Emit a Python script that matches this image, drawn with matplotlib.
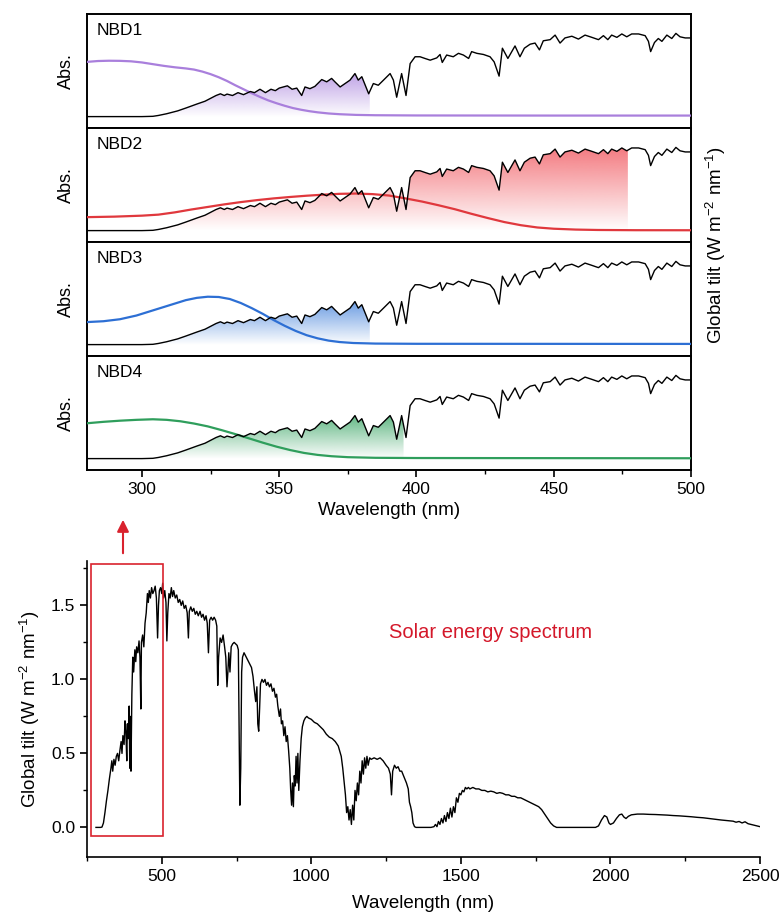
import numpy as np
import matplotlib
matplotlib.use('Agg')
from matplotlib import pyplot as plt
from matplotlib.patches import Rectangle
from matplotlib.ticker import MultipleLocator, FormatStrFormatter
from matplotlib.colors import to_rgb

plt.rcParams['font.family'] = ['Liberation Sans', 'DejaVu Sans']
plt.rcParams['mathtext.fontset'] = 'custom'
plt.rcParams['mathtext.rm'] = 'Liberation Sans'

# --- DATA ------------------------------------------------------------+

# smoothed AM1.5G spectrum used in the zoomed panels (nm, W m-2 nm-1)
detail_nm = [280, 290, 300, 304, 306, 309, 313, 316, 320, 323, 325, 327, 328.6, 330, 331, 333, 335,
             337, 339.5, 341, 343, 345, 347, 348.6, 350, 353, 354.7, 356.4, 358.2, 359.4, 361.2, 363,
             365.5, 367.3, 369.1, 370.3, 372.2, 374, 375.8, 377.6, 378.8, 380.1, 381.6, 382.6, 384.3,
             386.1, 388, 390.4, 391.6, 392.8, 394.6, 396.2, 397.7, 399.5, 401.3, 403.1, 405, 407.4,
             408.6, 409.4, 411, 413.4, 415.3, 417.1, 419, 420.1, 422, 424.4, 426.8, 428.3, 430.1,
             431.3, 433.3, 435.9, 437.7, 439.3, 441.4, 443.2, 444.8, 446.2, 448.7, 450.5, 452.3, 454.1,
             456.6, 459, 461.4, 463.9, 466.3, 468.1, 469.7, 471.1, 473, 474.8, 476.6, 478.4, 480.9,
             483.3, 484.5, 485.3, 486.7, 488.1, 489.4, 491.2, 493, 494.5, 496, 497.9, 500]
detail_val = [0, 0, 0, 0.005, 0.02, 0.05, 0.10, 0.15, 0.22, 0.27, 0.32, 0.37, 0.40, 0.37, 0.395, 0.37, 0.42,
              0.385, 0.44, 0.42, 0.48, 0.42, 0.48, 0.455, 0.50, 0.54, 0.48, 0.50, 0.37, 0.52, 0.49, 0.53,
              0.65, 0.61, 0.67, 0.61, 0.52, 0.58, 0.64, 0.755, 0.64, 0.70, 0.52, 0.40, 0.58,
              0.55, 0.64, 0.755, 0.64, 0.34, 0.755, 0.37, 0.93, 1.05, 1.05, 1.02, 0.99, 1.03,
              1.09, 0.95, 1.08, 1.05, 1.11, 1.08, 1.02, 1.14, 1.11, 1.09, 1.05, 0.96, 0.71,
              1.20, 1.02, 1.24, 1.05, 1.20, 1.27, 1.29, 1.17, 1.33, 1.35, 1.43, 1.29, 1.38,
              1.41, 1.36, 1.43, 1.39, 1.35, 1.42, 1.35, 1.43, 1.39, 1.45, 1.40, 1.45, 1.45,
              1.42, 1.32, 1.14, 1.30, 1.37, 1.32, 1.43, 1.37, 1.46, 1.40, 1.38, 1.38]

# full AM1.5G global tilt spectrum (bottom panel)
solar_nm = [280, 295, 300, 305, 310, 315, 320, 325, 330, 333, 336, 340, 344, 348, 352, 356, 360, 364, 367,
            370, 374, 377, 380, 383, 385, 388, 391, 393, 395, 397, 400, 403, 406, 410, 413, 416, 420, 424,
            427, 430, 432, 436, 440, 444, 448, 452, 455, 458, 462, 466, 470, 474, 478, 482, 486, 489, 492,
            496, 500, 503, 506, 510, 514, 517, 520, 524, 528, 532, 536, 540, 545, 550, 555, 560, 565, 570,
            575, 580, 585, 589, 592, 597, 602, 607, 612, 617, 622, 628, 633, 638, 643, 648, 652, 656, 660,
            665, 670, 675, 680, 684, 687, 690, 695, 700, 705, 710, 714, 718, 721, 724, 728, 732, 737, 742,
            747, 752, 756, 759, 761, 764, 767, 770, 775, 780, 785, 790, 795, 800, 805, 810, 814, 818, 821,
            824, 827, 830, 835, 840, 845, 850, 855, 860, 865, 870, 875, 880, 884, 888, 893, 897, 900, 904,
            908, 912, 916, 920, 924, 928, 931, 934, 937, 940, 943, 946, 949, 952, 955, 958, 962, 966, 970,
            975, 980, 985, 990, 1000, 1010, 1020, 1030, 1040, 1050, 1060, 1070, 1080, 1090, 1100, 1105,
            1110, 1114, 1118, 1122, 1126, 1130, 1134, 1138, 1142, 1146, 1150, 1154, 1158, 1162, 1166, 1170,
            1174, 1178, 1182, 1186, 1190, 1195, 1200, 1210, 1220, 1230, 1240, 1250, 1258, 1264, 1268, 1272,
            1278, 1284, 1290, 1296, 1302, 1310, 1318, 1324, 1328, 1332, 1336, 1340, 1345, 1350, 1400, 1410,
            1415, 1420, 1425, 1430, 1435, 1440, 1445, 1450, 1455, 1460, 1465, 1470, 1475, 1480, 1485, 1490,
            1495, 1500, 1505, 1510, 1515, 1520, 1525, 1530, 1540, 1550, 1560, 1570, 1580, 1590, 1600, 1610,
            1620, 1630, 1640, 1650, 1660, 1670, 1680, 1690, 1700, 1710, 1720, 1730, 1740, 1750, 1760, 1770,
            1780, 1790, 1800, 1810, 1820, 1950, 1960, 1970, 1980, 1988, 1995, 2000, 2010, 2020, 2030, 2038,
            2045, 2052, 2060, 2070, 2090, 2110, 2130, 2150, 2170, 2190, 2210, 2230, 2250, 2270, 2290, 2310,
            2330, 2350, 2370, 2390, 2410, 2420, 2430, 2440, 2450, 2460, 2470, 2480, 2490, 2500]
solar_val = [0, 0, 0.002, 0.03, 0.10, 0.18, 0.25, 0.33, 0.40, 0.45, 0.38, 0.46, 0.42, 0.48, 0.50, 0.45, 0.52,
             0.58, 0.50, 0.62, 0.56, 0.72, 0.65, 0.45, 0.70, 0.60, 0.82, 0.40, 0.75, 0.38, 0.90, 1.15, 1.05,
             1.20, 1.12, 1.22, 1.18, 1.26, 1.15, 0.80, 1.25, 1.30, 1.22, 1.38, 1.45, 1.58, 1.52, 1.60, 1.55,
             1.62, 1.58, 1.60, 1.63, 1.55, 1.28, 1.50, 1.60, 1.62, 1.58, 1.65, 1.55, 1.60, 1.52, 1.26, 1.45,
             1.58, 1.55, 1.62, 1.56, 1.60, 1.55, 1.57, 1.52, 1.54, 1.50, 1.53, 1.48, 1.50, 1.45, 1.28, 1.46,
             1.49, 1.46, 1.48, 1.44, 1.46, 1.43, 1.46, 1.42, 1.44, 1.40, 1.43, 1.38, 1.18, 1.40, 1.42, 1.40,
             1.42, 1.40, 1.36, 0.96, 1.15, 1.28, 1.25, 1.30, 1.22, 1.15, 0.95, 1.05, 1.18, 1.05, 1.22, 1.24,
             1.25, 1.24, 1.23, 1.20, 0.60, 0.15, 0.40, 1.05, 1.15, 1.18, 1.16, 1.14, 1.12, 1.10, 1.08, 1.02,
             0.92, 0.85, 0.95, 0.70, 0.65, 0.80, 0.97, 1.00, 0.98, 1.00, 0.96, 0.98, 0.95, 0.97, 0.92, 0.94,
             0.88, 0.90, 0.82, 0.75, 0.80, 0.70, 0.72, 0.62, 0.68, 0.58, 0.62, 0.52, 0.40, 0.25, 0.15, 0.30,
             0.14, 0.35, 0.28, 0.48, 0.30, 0.50, 0.25, 0.45, 0.60, 0.68, 0.72, 0.74, 0.75, 0.74, 0.73, 0.71,
             0.70, 0.68, 0.66, 0.63, 0.61, 0.60, 0.58, 0.55, 0.48, 0.40, 0.30, 0.22, 0.10, 0.14, 0.05, 0.12,
             0.02, 0.15, 0.05, 0.25, 0.18, 0.30, 0.22, 0.38, 0.30, 0.45, 0.36, 0.47, 0.40, 0.48, 0.42, 0.47,
             0.46, 0.47, 0.46, 0.47, 0.45, 0.42, 0.40, 0.36, 0.22, 0.38, 0.42, 0.40, 0.41, 0.38, 0.38, 0.34,
             0.30, 0.26, 0.17, 0.14, 0.10, 0.03, 0.005, 0, 0, 0.005, 0.02, 0.005, 0.04, 0.02, 0.06, 0.03,
             0.08, 0.04, 0.10, 0.06, 0.13, 0.07, 0.14, 0.10, 0.20, 0.17, 0.23, 0.22, 0.25, 0.24, 0.27, 0.26,
             0.27, 0.26, 0.27, 0.26, 0.26, 0.25, 0.25, 0.24, 0.245, 0.24, 0.23, 0.235, 0.23, 0.22, 0.22, 0.21,
             0.21, 0.20, 0.20, 0.19, 0.18, 0.17, 0.16, 0.15, 0.14, 0.12, 0.09, 0.06, 0.03, 0.01, 0, 0, 0.01,
             0.05, 0.08, 0.07, 0.03, 0.02, 0.03, 0.06, 0.085, 0.09, 0.07, 0.06, 0.075, 0.085, 0.09, 0.09,
             0.088, 0.087, 0.085, 0.083, 0.08, 0.078, 0.075, 0.072, 0.068, 0.065, 0.06, 0.055, 0.05, 0.046,
             0.042, 0.035, 0.04, 0.03, 0.038, 0.025, 0.02, 0.015, 0.01, 0.005]

# absorption spectra (a.u.)
names = ['NBD1', 'NBD2', 'NBD3', 'NBD4']
abs_nm = [
    [280, 284, 288, 292, 296, 300, 304, 308, 312, 316, 319, 322, 325, 328, 331, 334, 337, 340, 343, 346,
     349, 352, 355, 358, 361, 364, 368, 372, 378, 385, 400, 450, 500],
    [280, 290, 300, 306, 312, 318, 324, 330, 336, 342, 348, 354, 360, 366, 372, 378, 384, 390, 396, 402,
     408, 414, 420, 426, 432, 438, 444, 450, 458, 466, 480, 500],
    [280, 286, 292, 298, 304, 310, 316, 320, 324, 328, 332, 336, 340, 344, 348, 352, 356, 360, 364, 368,
     372, 377, 385, 400, 500],
    [280, 286, 292, 298, 304, 309, 314, 319, 324, 329, 334, 339, 344, 349, 354, 359, 364, 369, 375, 385,
     400, 500],
]
abs_val = [
    [0.96, 0.975, 0.98, 0.978, 0.97, 0.95, 0.92, 0.89, 0.865, 0.845, 0.825, 0.79, 0.745, 0.69, 0.625, 0.55,
     0.48, 0.41, 0.345, 0.285, 0.235, 0.19, 0.15, 0.12, 0.095, 0.075, 0.055, 0.042, 0.03, 0.024, 0.02,
     0.018, 0.018],
    [0.236, 0.245, 0.262, 0.28, 0.32, 0.37, 0.415, 0.46, 0.50, 0.535, 0.565, 0.59, 0.612, 0.63, 0.645, 0.65,
     0.64, 0.615, 0.565, 0.51, 0.445, 0.375, 0.295, 0.22, 0.15, 0.095, 0.055, 0.033, 0.018, 0.011, 0.007,
     0.006],
    [0.395, 0.41, 0.445, 0.51, 0.60, 0.69, 0.78, 0.82, 0.84, 0.835, 0.80, 0.73, 0.64, 0.54, 0.43, 0.33,
     0.24, 0.165, 0.11, 0.07, 0.045, 0.028, 0.018, 0.014, 0.012],
    [0.62, 0.645, 0.665, 0.68, 0.69, 0.68, 0.655, 0.615, 0.565, 0.50, 0.43, 0.355, 0.28, 0.21, 0.15, 0.10,
     0.065, 0.042, 0.025, 0.014, 0.01, 0.006],
]
cutoffs = [383, 477, 383, 395.3]
colors = ['#a97fdc', '#e0383d', '#2d6fd4', '#2f9e5c']
fill_colors = ['#a57ddc', '#f2646b', '#4a86dc', '#3aa565']
fill_alpha = [0.7, 0.85, 0.8, 0.8]

# --- FUNCTIONS -------------------------------------------------------+


def gradient_fill(ax, x, y, cutoff, color, amax):
    x = np.asarray(x)
    y = np.asarray(y)
    xs = np.linspace(x[0], cutoff, 800)
    ys = np.interp(xs, x, y)
    poly = ax.fill_between(xs, 0, ys, facecolor='none', edgecolor='none')
    rgb = to_rgb(color)
    n = 256
    img = np.zeros((n, 1, 4))
    img[:, 0, 0] = rgb[0]
    img[:, 0, 1] = rgb[1]
    img[:, 0, 2] = rgb[2]
    img[:, 0, 3] = np.linspace(0.0, amax, n)
    im = ax.imshow(img, extent=[x[0], cutoff, 0, ys.max()], origin='lower', aspect='auto', zorder=2)
    im.set_clip_path(poly.get_paths()[0], transform=ax.transData)


# --- FIGURE ----------------------------------------------------------+

fig = plt.figure(figsize=(7.81, 9.22), dpi=100)

left = 87 / 781
width = (691 - 87) / 781
top = 1 - 14 / 922
ph = (470 - 14) / 922 / 4

for i in range(4):
    ax = fig.add_axes([left, top - (i + 1) * ph, width, ph])
    gradient_fill(ax, detail_nm, detail_val, cutoffs[i], fill_colors[i], fill_alpha[i])
    ax.plot(detail_nm, detail_val, color='black', lw=1.0, zorder=4)
    ax.plot(abs_nm[i], abs_val[i], color=colors[i], lw=1.6, zorder=3)
    ax.set_xlim(280, 500)
    ax.set_ylim(-0.2, 1.8)
    ax.set_yticks([])
    ax.xaxis.set_major_locator(MultipleLocator(50))
    ax.xaxis.set_minor_locator(MultipleLocator(25))
    ax.tick_params(axis='x', which='major', direction='out', length=5, width=1.2, labelsize=12.5)
    ax.tick_params(axis='x', which='minor', direction='out', length=3, width=1.0)
    for s in ax.spines.values():
        s.set_linewidth(1.4)
    ax.text(0.016, 0.92, names[i], transform=ax.transAxes, fontsize=12.5, va='top', ha='left')
    ax.set_ylabel('Abs.', fontsize=13, labelpad=9)
    if i < 3:
        ax.tick_params(axis='x', labelbottom=False)
    else:
        ax.set_xlabel('Wavelength (nm)', fontsize=13.5, labelpad=4)

fig.text(716 / 781, 1 - 245 / 922, 'Global tilt (W m$^{-2}$ nm$^{-1}$)', rotation=90,
         ha='center', va='center', fontsize=13.5)

# --- BOTTOM PANEL ----------------------------------------------------+
ax2 = fig.add_axes([87 / 781, 1 - 857 / 922, (760 - 87) / 781, (857 - 561) / 922])
ax2.plot(solar_nm, solar_val, color='black', lw=1.0)
ax2.set_xlim(250, 2500)
ax2.set_ylim(-0.2, 1.8)
ax2.spines['top'].set_visible(False)
ax2.spines['right'].set_visible(False)
for s in ['left', 'bottom']:
    ax2.spines[s].set_linewidth(1.2)
ax2.xaxis.set_major_locator(MultipleLocator(500))
ax2.xaxis.set_minor_locator(MultipleLocator(250))
ax2.yaxis.set_major_locator(MultipleLocator(0.5))
ax2.yaxis.set_minor_locator(MultipleLocator(0.25))
ax2.yaxis.set_major_formatter(FormatStrFormatter('%.1f'))
ax2.tick_params(which='major', direction='out', length=5, width=1.2, labelsize=12.5)
ax2.tick_params(which='minor', direction='out', length=3, width=1.0)
ax2.set_xlabel('Wavelength (nm)', fontsize=13.5, labelpad=8)
ax2.set_ylabel('Global tilt (W m$^{-2}$ nm$^{-1}$)', fontsize=13.5, labelpad=6)

ax2.add_patch(Rectangle((265, -0.055), 505 - 265, 1.78 + 0.055, fill=False,
                        edgecolor='#d9222e', lw=1.2, zorder=5))
ax2.text(1600, 1.32, 'Solar energy spectrum', color='#d4182a', fontsize=14.5, ha='center', va='center')

ax2.annotate('', xy=(123 / 781, 1 - 517 / 922), xytext=(123 / 781, 1 - 556 / 922),
             xycoords='figure fraction', textcoords='figure fraction',
             arrowprops=dict(arrowstyle='-|>,head_length=0.7,head_width=0.35', color='#d9222e', lw=1.5))

plt.savefig('out.png', dpi=100)
